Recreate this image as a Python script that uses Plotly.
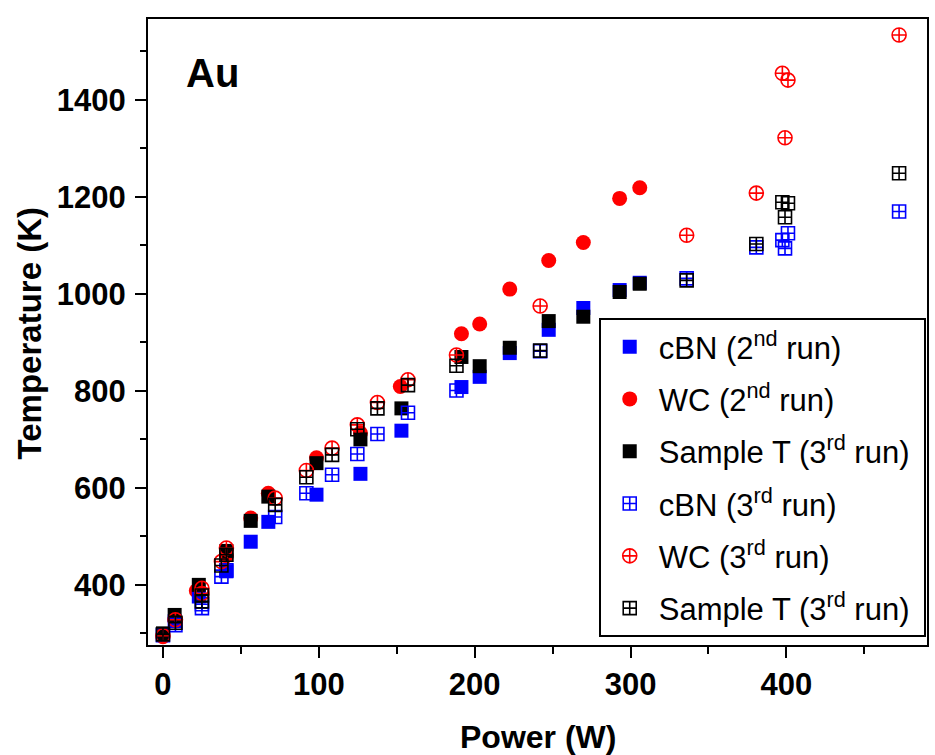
import plotly.graph_objects as go

# ---- data ----
# 2nd run, filled markers
power_2nd = [0, 7.5, 23, 40.7, 56.3, 67.6, 98.5, 126.7, 153, 191.5, 203.2, 222.5, 247.5, 269.7, 293, 305.9]
cbn_2nd = [297, 325, 376, 428, 489, 530, 586, 629, 718, 808, 829, 878, 926, 971, 1008, 1023]
wc_2nd_power = [0, 7.5, 21.4, 40.7, 56.3, 67.6, 98.5, 126.7, 152.3, 191.5, 203.2, 222.5, 247.5, 269.7, 293, 305.9]
wc_2nd = [293, 328, 388, 460, 538, 589, 662, 713, 809, 918, 938, 1010, 1069, 1106, 1197, 1219]
sample_t_filled = [300, 338, 400, 470, 532, 582, 651, 700, 764, 870, 851, 889, 944, 953, 1004, 1021]

# 3rd run, open markers
power_3rd = [0, 8, 25, 25, 37.5, 40.7, 72, 92, 108.5, 124.7, 137.6, 157.2, 188.3, 242, 336, 380.7, 397.4, 399.1, 401, 472.3]
wc_3rd = [295, 328, 393, 382, 448, 476, 579, 636, 682, 730, 776, 823, 874, 975, 1121, 1208, 1455, 1322, 1441, 1534]
sample_t_3rd = [298, 322, 378, 366, 440, 462, 565, 622, 668, 721, 764, 812, 852, 883, 1028, 1103, 1189, 1158, 1187, 1249]
cbn_3rd = [296, 317, 360, 352, 417, 430, 540, 589, 627, 670, 711, 755, 801, 882, 1032, 1096, 1111, 1094, 1125, 1170]

x_ticks = [0, 100, 200, 300, 400]
y_ticks = [400, 600, 800, 1000, 1200, 1400]

FONT = "Arial, Liberation Sans, sans-serif"
BLUE, RED, BLACK = "#0000FF", "#FF0000", "#000000"
NB = "\u00a0"

fig = go.Figure()

def add(x, y, name, symbol, color, size, rank, open_=False):
    marker = dict(symbol=symbol, size=size, color=color)
    if open_:
        marker["line"] = dict(color=color, width=1.6)
    else:
        marker["line"] = dict(width=0)
    fig.add_trace(go.Scatter(x=x, y=y, mode="markers", name=name, marker=marker,
                             legendrank=rank, legendgroup=str(rank)))

# draw order: red filled, blue filled, black filled, then open markers
add(wc_2nd_power, wc_2nd, "WC (2<sup>nd</sup> run)", "circle", RED, 15, 2)
add(power_2nd, cbn_2nd, "cBN (2<sup>nd</sup> run)", "square", BLUE, 14, 1)
add(power_2nd, sample_t_filled, "Sample T (3<sup>rd</sup> run)" + NB, "square", BLACK, 14, 3)
add(power_3rd, cbn_3rd, "cBN (3<sup>rd</sup> run)", "square-cross-open", BLUE, 13, 4, True)
add(power_3rd, wc_3rd, "WC (3<sup>rd</sup> run)", "circle-cross-open", RED, 14, 5, True)
add(power_3rd, sample_t_3rd, "Sample T (3<sup>rd</sup> run)" + NB, "square-cross-open", BLACK, 13, 6, True)

axis_common = dict(
    showline=True, linecolor="black", linewidth=2, mirror=True,
    ticks="outside", ticklen=11, tickwidth=2, tickcolor="black",
    showgrid=False, zeroline=False, automargin=False,
    tickfont=dict(family=FONT, size=31, color="black", weight="bold"),
)

fig.update_xaxes(range=[-9.6, 490.2], tickvals=x_ticks,
                 minor=dict(ticks="outside", ticklen=7, tickwidth=2, tickcolor="black", dtick=50, tick0=0, showgrid=False),
                 **axis_common)
fig.update_yaxes(range=[276, 1567], tickvals=y_ticks, ticklabelstandoff=3,
                 minor=dict(ticks="outside", ticklen=6, tickwidth=2, tickcolor="black", dtick=100, tick0=0, showgrid=False),
                 **axis_common)

fig.add_annotation(text="Au", xref="paper", yref="paper", x=0.046, y=0.914,
                   xanchor="left", yanchor="middle", showarrow=False,
                   font=dict(family=FONT, size=40, color="black", weight="bold"))
fig.add_annotation(text="Temperature (K)", xref="paper", yref="paper", x=-0.152, y=0.497,
                   xanchor="center", yanchor="middle", textangle=-90, showarrow=False,
                   font=dict(family=FONT, size=33, color="black", weight="bold"))
fig.add_annotation(text="Power (W)", xref="paper", yref="paper", x=0.5, y=-0.147,
                   xanchor="center", yanchor="middle", showarrow=False,
                   font=dict(family=FONT, size=32, color="black", weight="bold"))

fig.update_layout(
    width=935, height=755,
    margin=dict(l=148, r=8, t=19, b=110, autoexpand=False),
    paper_bgcolor="white", plot_bgcolor="white",
    showlegend=True,
    legend=dict(x=0.5786, y=0.5224, xanchor="left", yanchor="top",
                bgcolor="white", bordercolor="black", borderwidth=2,
                font=dict(family=FONT, size=31, color="black"),
                tracegroupgap=9, itemsizing="trace", itemwidth=48),
)

fig.write_html("out.html", config={"displayModeBar": False},
               post_script="document.body.style.margin='0';document.body.style.padding='0';")
